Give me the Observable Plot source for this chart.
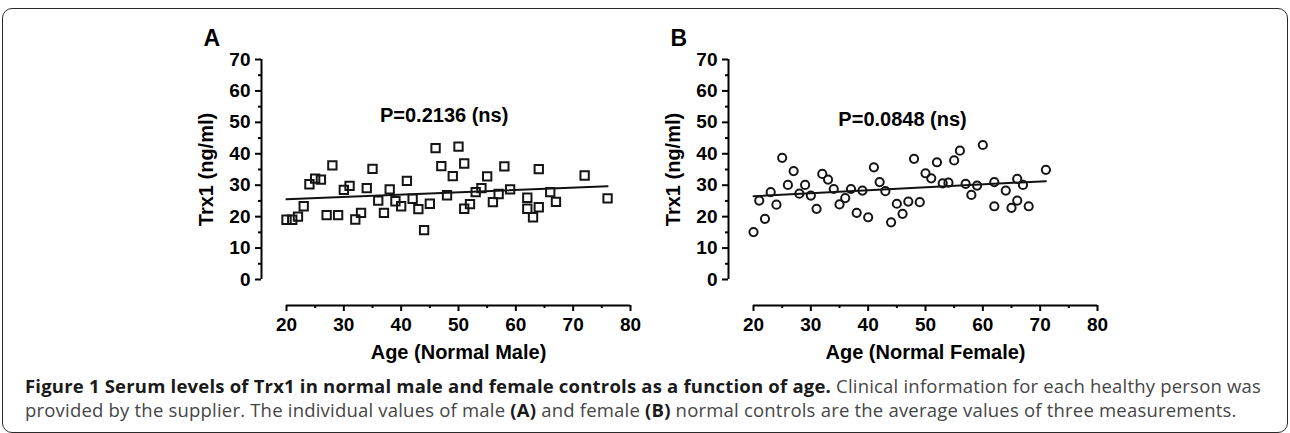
<!DOCTYPE html>
<html>
<head>
<meta charset="utf-8">
<script src="https://cdn.jsdelivr.net/npm/d3@7"></script>
<script src="https://cdn.jsdelivr.net/npm/@observablehq/plot@0.6"></script>
<style>
  html, body { margin: 0; padding: 0; background: #fff; width: 1290px; height: 433px; overflow: hidden; position: relative; }
  #frame { position: absolute; left: 2px; top: 8px; width: 1286px; height: 425px; box-sizing: border-box;
           border: 1.5px solid #2a2a2a; border-radius: 10px; }
  .panel { position: absolute; top: 0; }
  #caption { position: absolute; left: 25px; top: 374px; font-family: "Open Sans", "Noto Sans", sans-serif;
             font-size: 18.5px; letter-spacing: 0.2px; line-height: 24px; color: #454545; white-space: nowrap; }
  #caption b { color: #1a1a1a; font-weight: 700; }
</style>
</head>
<body>
<div id="frame"></div>
<div id="panelA" class="panel" style="left:170px"></div>
<div id="panelB" class="panel" style="left:637px"></div>
<div id="caption">
  <div><b>Figure 1 Serum levels of Trx1 in normal male and female controls as a function of age.</b> Clinical information for each healthy person was</div>
  <div>provided by the supplier. The individual values of male <b>(A)</b> and female <b>(B)</b> normal controls are the average values of three measurements.</div>
</div>
<script>
// ---- data ----
const agesA = [20,21,22,23,24,25,26,27,28,29,30,31,32,33,34,35,36,37,38,39,40,41,42,43,44,45,46,47,48,49,50,51,51,52,53,54,55,56,57,58,59,62,62,63,64,64,66,67,72,76];
const trxA  = [19.0,19.0,20.0,23.3,30.3,32.1,31.8,20.5,36.3,20.5,28.5,29.8,19.1,21.2,29.1,35.2,25.1,21.2,28.7,24.9,23.3,31.4,25.7,22.4,15.7,24.1,41.8,36.1,26.8,32.9,42.3,36.9,22.5,24.0,27.8,29.1,32.8,24.6,27.2,36.0,28.7,26.0,22.5,19.8,35.1,23.0,27.8,24.7,33.1,25.8];

const agesB = [20,21,22,23,24,25,26,27,28,29,30,31,32,33,34,35,36,37,38,39,40,41,42,43,44,45,46,47,48,49,50,51,52,53,54,55,56,57,58,59,60,62,62,64,65,66,66,67,68,71];
const trxB  = [15.1,25.1,19.3,27.8,23.8,38.7,30.1,34.5,27.3,30.1,26.7,22.5,33.6,31.8,28.8,23.9,25.9,28.8,21.2,28.3,19.8,35.7,31.0,28.1,18.2,24.1,20.9,24.8,38.4,24.6,33.8,32.2,37.3,30.6,30.8,37.9,41.0,30.4,26.9,29.9,42.8,31.0,23.3,28.3,22.8,32.0,25.1,30.1,23.3,34.9];

// fitted regression lines (end points)
const fitAgeA = [20, 76];
const fitTrxA = [25.5, 29.7];
const fitAgeB = [20, 71];
const fitTrxB = [26.5, 31.3];

const xTicks = [20, 30, 40, 50, 60, 70, 80];
const xMinor = [25, 35, 45, 55, 65, 75];
const yTicks = [0, 10, 20, 30, 40, 50, 60, 70];
const yMinor = [5, 15, 25, 35, 45, 55, 65];

const yTitle = "Trx1 (ng/ml)";
const xTitleA = "Age (Normal Male)";
const xTitleB = "Age (Normal Female)";
const pTextA = "P=0.2136 (ns)";
const pTextB = "P=0.0848 (ns)";

// ---- drawing ----
const zip = (xs, ys) => xs.map((x, i) => ({x, y: ys[i]}));
const FONT = "'Liberation Sans', Arial, Helvetica, sans-serif";

function panel({ages, trx, fitX, fitY, symbol, r, letter, pText, pAt, xTitle}) {
  const pts = zip(ages, trx);
  const fit = zip(fitX, fitY);
  const xMin = xTicks[0], xMax = xTicks[xTicks.length - 1];
  const yMin = yTicks[0], yMax = yTicks[yTicks.length - 1];
  const OFF_Y = -25, OFF_X = 26;
  return Plot.plot({
    width: 480, height: 372,
    marginLeft: 116, marginRight: 20, marginTop: 59, marginBottom: 93,
    x: {domain: [xMin, xMax]},
    y: {domain: [yMin, yMax]},
    style: {background: "transparent", fontFamily: FONT, fontWeight: "bold", fontSize: "19px", color: "#000", overflow: "visible"},
    marks: [
      // y axis (offset to the left)
      Plot.ruleX([xMin], {x: d => d, y1: () => yMin, y2: () => yMax, dx: OFF_Y, strokeWidth: 2, stroke: "#000"}),
      Plot.axisY({ticks: yTicks, tickSize: 6, tickPadding: 5, dx: OFF_Y, strokeWidth: 2, label: null, fontSize: 19, fontWeight: "bold"}),
      Plot.axisY({ticks: yMinor, tickSize: 3, tickFormat: () => "", dx: OFF_Y, strokeWidth: 2, label: null}),
      // x axis (offset below)
      Plot.ruleY([yMin], {y: d => d, x1: () => xMin, x2: () => xMax, dy: OFF_X, strokeWidth: 2, stroke: "#000"}),
      Plot.axisX({ticks: xTicks, tickSize: 6, tickPadding: 6, dy: OFF_X, strokeWidth: 2, label: null, fontSize: 19, fontWeight: "bold"}),
      Plot.axisX({ticks: xMinor, tickSize: 3, tickFormat: () => "", dy: OFF_X, strokeWidth: 2, label: null}),
      // regression line
      Plot.line(fit, {x: "x", y: "y", stroke: "#111", strokeWidth: 2}),
      // points
      Plot.dot(pts, {x: "x", y: "y", symbol, r, stroke: "#151515", strokeWidth: 2, fill: "none"}),
      // annotations
      Plot.text([pText], {x: () => pAt[0], y: () => pAt[1], text: d => d, fontSize: 20, fontWeight: "bold", fill: "#000"}),
      Plot.text([letter], {frameAnchor: "top-left", text: d => d, dx: -83, dy: -14, textAnchor: "start", lineAnchor: "bottom", fontSize: 23, fontWeight: "bold", fill: "#000"}),
      Plot.text([yTitle], {frameAnchor: "left", text: d => d, rotate: -90, dx: -80, textAnchor: "middle", lineAnchor: "middle", fontSize: 20, fontWeight: "bold", fill: "#000"}),
      Plot.text([xTitle], {frameAnchor: "bottom", text: d => d, dy: 73, textAnchor: "middle", lineAnchor: "middle", fontSize: 20, fontWeight: "bold", fill: "#000"})
    ]
  });
}

document.getElementById("panelA").appendChild(panel({
  ages: agesA, trx: trxA, fitX: fitAgeA, fitY: fitTrxA, symbol: "square", r: 4.7,
  letter: "A", pText: pTextA, pAt: [47.5, 52.2], xTitle: xTitleA
}));
document.getElementById("panelB").appendChild(panel({
  ages: agesB, trx: trxB, fitX: fitAgeB, fitY: fitTrxB, symbol: "circle", r: 4.1,
  letter: "B", pText: pTextB, pAt: [46.0, 50.8], xTitle: xTitleB
}));
</script>
</body>
</html>
